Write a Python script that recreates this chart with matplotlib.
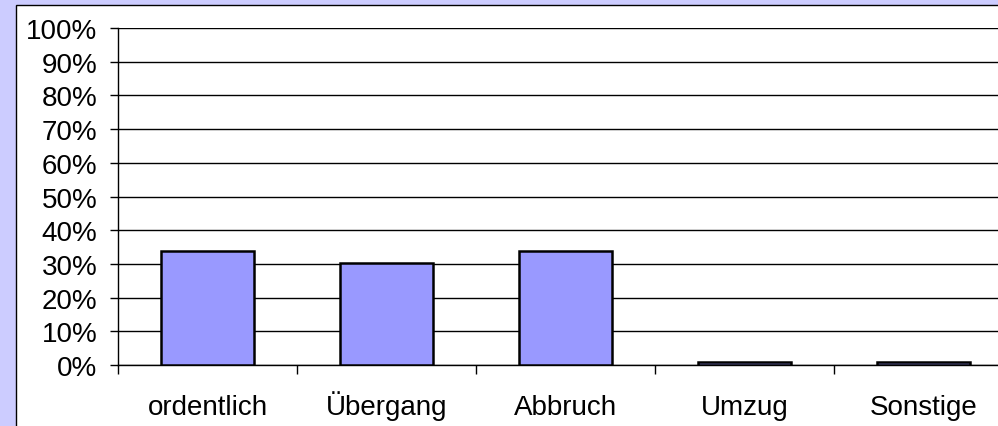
import matplotlib
matplotlib.use("Agg")
import matplotlib.pyplot as plt
from matplotlib.patches import Rectangle
from matplotlib.ticker import MultipleLocator, FixedLocator, PercentFormatter

categories = ["ordentlich", "Übergang", "Abbruch", "Umzug", "Sonstige"]
values = [33.7, 30.3, 33.7, 1.0, 1.0]

plt.rcParams['font.family'] = ['Liberation Sans', 'DejaVu Sans']

W, H = 998, 427
fig = plt.figure(figsize=(W / 100, H / 100), dpi=100)
fig.patch.set_facecolor("#CCCCFF")

# white chart panel
panel = Rectangle((16 / W, -0.05), 1.2, 1 - 5.5 / H + 0.05,
                  transform=fig.transFigure, facecolor="white",
                  edgecolor="black", linewidth=1.0, zorder=-5)
fig.patches.append(panel)

ax = fig.add_axes([118 / W, 61 / H, 895 / W, 337 / H])
ax.set_zorder(2)
ax.set_facecolor("none")

x = list(range(len(categories)))
ax.bar(x, values, width=0.525, color="#9999FF", edgecolor="black",
       linewidth=1.8, zorder=3)

ax.set_xlim(-0.5, len(categories) - 0.5)
ax.set_ylim(0, 100)

ax.yaxis.set_major_locator(MultipleLocator(10))
ax.yaxis.set_major_formatter(PercentFormatter(decimals=0))
ax.yaxis.grid(True, color="black", linewidth=1.0, zorder=1)
ax.set_axisbelow(True)

ax.set_xticks(x)
ax.set_xticklabels(categories)
for lbl in ax.get_xticklabels():
    lbl.set_verticalalignment("baseline")
ax.xaxis.set_minor_locator(FixedLocator([i - 0.5 for i in range(len(categories) + 1)]))

ax.tick_params(axis="y", which="major", direction="out", length=6, width=1,
               pad=9, labelsize=20, color="black")
ax.tick_params(axis="x", which="major", length=0, pad=35, labelsize=20)
ax.tick_params(axis="x", which="minor", direction="out", length=6.3, width=1,
               color="black")

for side in ["top", "right"]:
    ax.spines[side].set_visible(False)
for side in ["left", "bottom"]:
    ax.spines[side].set_color("black")
    ax.spines[side].set_linewidth(1.0)

fig.savefig("out.png", dpi=100)
